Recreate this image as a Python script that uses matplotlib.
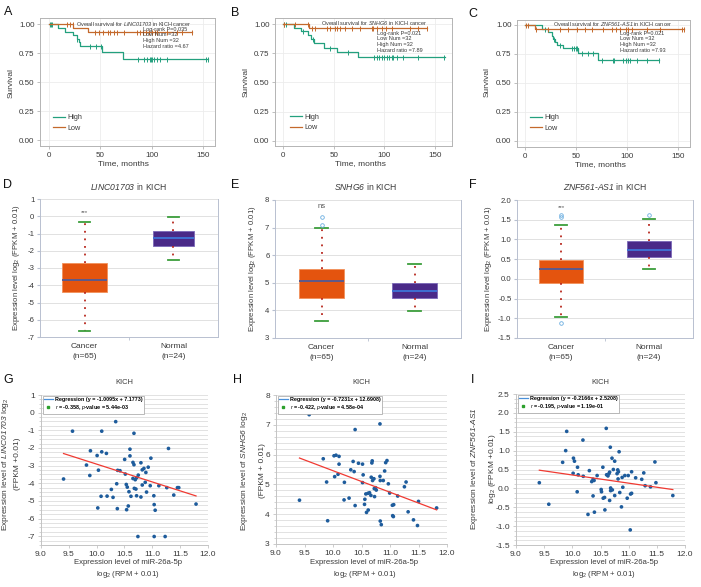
import numpy as np
import matplotlib
matplotlib.use('Agg')
import matplotlib.pyplot as plt
from matplotlib.lines import Line2D
from matplotlib.ticker import MultipleLocator, FormatStrFormatter

plt.rcParams['font.family'] = ['Liberation Sans', 'DejaVu Sans']
plt.rcParams['mathtext.fontset'] = 'custom'
plt.rcParams['mathtext.rm'] = 'Liberation Sans'
plt.rcParams['mathtext.it'] = 'Liberation Sans:italic'
plt.rcParams['mathtext.sf'] = 'Liberation Sans:italic'
plt.rcParams['mathtext.bf'] = 'Liberation Sans:bold'
plt.rcParams['axes.unicode_minus'] = False

# ---------------- data ----------------
genes = ['LINC01703', 'SNHG6', 'ZNF561-AS1']
logrank_p = ['0.035', '0.021', '0.021']
low_num = [32, 32, 32]
high_num = [32, 32, 32]
hazard_ratio = ['4.67', '7.89', '7.93']

# Kaplan-Meier (time, survival) step points and censor times
A_high_t = [0, 9, 15.5, 23.5, 27, 29.3, 30.2, 51.5, 72, 155]
A_high_s = [1, 0.969, 0.938, 0.906, 0.875, 0.844, 0.813, 0.758, 0.704, 0.704]
A_high_c = [0.5, 1.5, 2.6, 27.7, 40, 45.6, 50.8, 86.6, 92.1, 95.3, 98, 99.2, 100.2,
            102.5, 105.1, 108.4, 114.9, 153, 154.6]
A_low_t = [0, 23.5, 37.5, 139.5]
A_low_s = [1, 0.969, 0.937, 0.937]
A_low_c = [17.2, 20.5, 23.1, 44.3, 48.5, 53, 57, 59.6, 62.8, 66, 73.2, 85.6, 88.9, 91.4,
           94.4, 97, 100.2, 103.5, 105, 114.9, 124.6, 129.5, 139.3]

B_high_t = [0, 10.9, 17.5, 24.1, 27.5, 30.5, 40.6, 53.5, 73.7, 160.2]
B_high_s = [1, 0.969, 0.938, 0.906, 0.875, 0.836, 0.796, 0.758, 0.716, 0.716]
B_high_c = [1, 2.6, 19.8, 29.7, 46.2, 64.4, 89.9, 92.5, 95.1, 97.5, 99.8, 102.4, 105.1,
            107.4, 109, 112.3, 118.3, 133.8, 158.6]
B_low_t = [0, 25.4, 142.7]
B_low_s = [1, 0.969, 0.969]
B_low_c = [1, 11.6, 24.1, 28.1, 31.4, 43.6, 46.3, 51.2, 53.5, 56.2, 61.1, 67.7, 76, 87.5,
           89.2, 92.5, 97.5, 101.7, 107.4, 125.5, 133.8, 142.7]

C_high_t = [0, 17, 22.8, 26.1, 27.7, 29.3, 31.6, 37.5, 52.2, 71.1, 131.1]
C_high_s = [1, 0.969, 0.938, 0.906, 0.875, 0.852, 0.830, 0.800, 0.761, 0.700, 0.700]
C_high_c = [19.6, 28.5, 34.2, 46.3, 48.3, 49.9, 51.2, 55.4, 62, 66.8, 75, 85.8, 87.4, 96.2,
            98.8, 100.4, 102.7, 109.2, 119, 131.1]
C_low_t = [0, 10.1, 155.5]
C_low_s = [1, 0.969, 0.969]
C_low_c = [0.7, 3.3, 10.8, 22.8, 34.2, 42.4, 50.5, 58.7, 65.2, 76.6, 84.8, 89, 92.9, 98.5,
           101.1, 104.3, 119, 132, 153.2, 155.5]

# Box plot statistics (log2 FPKM+0.01)
groups = ['Cancer\n(n=65)', 'Normal\n(n=24)']
D_cancer = dict(q1=-4.38, med=-3.72, q3=-2.69, whislo=-6.68, whishi=-0.32, fliers=[])
D_normal = dict(q1=-1.72, med=-1.27, q3=-0.86, whislo=-2.52, whishi=-0.05, fliers=[])
E_cancer = dict(q1=4.46, med=5.07, q3=5.51, whislo=3.63, whishi=6.99, fliers=[7.08, 7.40])
E_normal = dict(q1=4.46, med=4.69, q3=4.99, whislo=3.98, whishi=5.69, fliers=[])
F_cancer = dict(q1=-0.11, med=0.25, q3=0.48, whislo=-0.96, whishi=1.36, fliers=[1.56, 1.61, -1.12])
F_normal = dict(q1=0.55, med=0.72, q3=0.95, whislo=0.26, whishi=1.52, fliers=[1.62])
box_sig = ['***', 'ns', '***']
box_sig_y = [0.22, 7.75, 1.82]

# Scatter: miR-26a-5p (x) vs lncRNA (y)
G_x = [9.405, 9.566, 9.888, 9.817, 9.877, 10.008, 10.032, 10.020, 10.091, 10.091, 10.175,
       10.079, 10.187, 10.264, 10.294, 10.342, 10.360, 10.377, 10.419, 10.371, 10.503,
       10.515, 10.532, 10.550, 10.568, 10.538, 10.580, 10.598, 10.598, 10.616, 10.652,
       10.670, 10.670, 10.652, 10.693, 10.676, 10.705, 10.717, 10.717, 10.741, 10.747,
       10.795, 10.795, 10.819, 10.819, 10.849, 10.872, 10.884, 10.896, 10.926, 10.974,
       10.962, 11.027, 11.033, 11.051, 11.033, 11.117, 11.230, 11.260, 11.290, 11.385,
       11.451, 11.475, 11.785]
G_y = [-3.76, -1.05, -2.16, -2.97, -3.56, -2.43, -3.26, -5.40, -1.05, -2.22, -2.31,
       -4.74, -4.73, -4.35, -4.80, -0.51, -4.03, -3.27, -3.29, -5.44, -2.65,
       -3.48, -4.07, -4.22, -5.29, -5.50, -4.48, -2.07, -2.45, -4.74, -2.82,
       -1.17, -2.95, -3.73, -3.80, -4.29, -4.33, -3.69, -4.71, -7.02, -3.54,
       -4.78, -2.84, -3.24, -4.10, -3.16, -3.95, -3.39, -4.50, -3.09, -2.58,
       -4.14, -4.71, -5.21, -5.53, -7.02, -4.14, -7.02, -4.25, -2.03, -4.67,
       -4.25, -4.25, -5.18]
H_x = [9.412, 9.582, 9.829, 9.888, 9.906, 10.018, 10.053, 10.106, 10.106, 10.029, 10.088,
       10.200, 10.194, 10.282, 10.312, 10.353, 10.371, 10.388, 10.388, 10.447, 10.518,
       10.529, 10.518, 10.559, 10.553, 10.588, 10.618, 10.576, 10.612, 10.641, 10.665,
       10.671, 10.682, 10.688, 10.694, 10.718, 10.729, 10.724, 10.747, 10.759, 10.824,
       10.824, 10.829, 10.829, 10.847, 10.882, 10.906, 10.924, 10.947, 10.971, 10.994,
       11.041, 11.065, 11.047, 11.059, 11.135, 11.253, 11.282, 11.318, 11.412, 11.482,
       11.500, 11.818]
H_y = [4.47, 7.34, 5.86, 5.08, 3.78, 5.96, 5.98, 5.94, 5.68, 5.26, 5.34,
       5.07, 4.48, 4.54, 5.49, 5.77, 5.43, 6.84, 4.29, 5.71, 5.68,
       5.32, 5.06, 4.50, 4.33, 4.06, 4.14, 4.68, 4.70, 4.72, 4.63,
       5.24, 5.72, 5.79, 5.13, 5.19, 4.59, 4.86, 4.89, 4.81, 7.03,
       5.27, 5.13, 3.77, 3.65, 5.13, 5.45, 5.73, 5.80, 5.02, 4.71,
       4.30, 4.32, 3.95, 3.92, 4.61, 4.92, 5.08, 4.08, 3.81, 3.62,
       4.43, 4.21]
I_x = [9.414, 9.582, 9.828, 9.882, 9.900, 10.020, 10.038, 10.014, 10.092, 10.104, 10.086,
       10.188, 10.194, 10.278, 10.302, 10.344, 10.368, 10.386, 10.368, 10.392, 10.440,
       10.512, 10.518, 10.542, 10.548, 10.572, 10.578, 10.602, 10.608, 10.632, 10.650,
       10.662, 10.674, 10.680, 10.680, 10.662, 10.704, 10.710, 10.728, 10.752, 10.752,
       10.794, 10.806, 10.818, 10.812, 10.830, 10.842, 10.872, 10.884, 10.896, 10.932,
       10.974, 10.992, 11.034, 11.052, 11.052, 11.028, 11.124, 11.232, 11.268, 11.292,
       11.388, 11.466, 11.484, 11.784]
I_y = [0.15, -0.42, 0.69, 1.00, 1.51, 0.80, 0.72, 0.40, 0.56, 0.36, -0.09,
       1.28, 0.32, -0.69, 0.47, 0.18, 0.24, 0.21, -0.20, -0.63, 0.34,
       -0.03, -0.09, 0.56, -0.26, -0.24, -0.57, 1.59, 0.36, 0.33, 0.39,
       0.43, 1.09, 0.01, -0.06, -0.32, 0.80, -0.04, 0.50, 0.72, -0.19,
       0.39, 0.49, 0.44, 0.25, 0.97, -0.11, -0.49, 0.29, 0.03, 0.34,
       -0.26, 0.34, -0.15, -0.13, 0.44, -1.10, 0.28, 0.24, 0.41, 0.07,
       0.04, 0.70, 0.15, -0.19]
reg_slope = [-1.0095, -0.7231, -0.2166]
reg_icpt = [7.1773, 12.6908, 2.5208]
reg_r = ['-0.358', '-0.422', '-0.195']
reg_p = ['5.44e-03', '4.58e-04', '1.19e-01']

# ---------------- layout helpers ----------------
W, H = 701, 587
fig = plt.figure(figsize=(W / 100, H / 100), dpi=100)
fig.patch.set_facecolor('white')


def add_ax(l, t, r, b):
    return fig.add_axes([l / W, 1 - b / H, (r - l) / W, (b - t) / H])


def ftext(x, y, s, **kw):
    return fig.text(x / W, 1 - y / H, s, **kw)


def gene_math(g):
    return r'$\mathsf{' + g.replace('-', '}$-$\\mathsf{') + '}$'


HIGH = '#23a07e'
LOW = '#c4692c'
TXT = '#3a3a3a'

# panel letters
for lab, x, y in [('A', 8, 12), ('B', 235, 13), ('C', 473, 14), ('D', 8, 185),
                  ('E', 235, 185), ('F', 473, 185), ('G', 8, 380), ('H', 237, 380), ('I', 473, 380)]:
    ftext(x, y, lab, fontsize=9, ha='center', va='center', color='#111111')


# ---------------- survival panels ----------------
def surv_panel(box, xlim, ylim, ht, hs, hc, lt, ls_, lc, gi, title_xy, stats_xy, leg_xy,
               ylab_xy, xlab_xy):
    ax = add_ax(*box)
    for t, s, c, col in [(ht, hs, hc, HIGH), (lt, ls_, lc, LOW)]:
        t = np.asarray(t)
        s = np.asarray(s)
        ax.step(t, s, where='post', color=col, lw=0.9)
        idx = np.searchsorted(t, c, side='right') - 1
        ax.plot(c, s[idx], ls='none', marker='|', ms=3.6, mew=0.7, color=col)
    ax.set_xlim(*xlim)
    ax.set_ylim(*ylim)
    ax.set_xticks([0, 50, 100, 150])
    ax.set_yticks([0, 0.25, 0.5, 0.75, 1.0])
    ax.yaxis.set_major_formatter(FormatStrFormatter('%.2f'))
    ax.grid(True, color='#ececec', lw=0.6)
    ax.set_axisbelow(True)
    for sp in ax.spines.values():
        sp.set_color('#b4b4b4')
        sp.set_linewidth(0.7)
    ax.tick_params(labelsize=5.8, colors='#b4b4b4', labelcolor=TXT, length=2, width=0.6, pad=2)
    ftext(title_xy[0], title_xy[1], 'Overall survival for ' + gene_math(genes[gi]) + ' in KICH cancer',
          fontsize=4.0, ha='left', va='center', color=TXT)
    lines = ['Log-rank P=' + logrank_p[gi], 'Low Num =%d' % low_num[gi],
             'High Num =%d' % high_num[gi], 'Hazard ratio =' + hazard_ratio[gi]]
    for k, ln in enumerate(lines):
        ftext(stats_xy[0], stats_xy[1] + k * 5.6, ln, fontsize=4.0, ha='left', va='center', color=TXT)
    handles = [Line2D([], [], color=HIGH, lw=0.9), Line2D([], [], color=LOW, lw=0.9)]
    ax.legend(handles, ['High', 'Low'], loc='center left',
              bbox_to_anchor=(leg_xy[0] / W, 1 - leg_xy[1] / H), bbox_transform=fig.transFigure,
              frameon=False, fontsize=5.2, handlelength=1.6, handletextpad=0.4,
              labelspacing=0.45, borderpad=0, borderaxespad=0, labelcolor=TXT)
    ftext(ylab_xy[0], ylab_xy[1], 'Survival', rotation=90, fontsize=6, ha='center', va='center', color=TXT)
    ftext(xlab_xy[0], xlab_xy[1], 'Time, months', fontsize=6, ha='center', va='center', color=TXT)
    return ax


surv_panel((40, 18, 215, 146), (-8.8, 161.6), (-0.05, 1.055), A_high_t, A_high_s, A_high_c,
           A_low_t, A_low_s, A_low_c, 0, (76, 23.5), (143, 29.3), (53, 123), (11, 83), (123, 164))
surv_panel((275, 18, 452, 146), (-8.2, 167.0), (-0.046, 1.054), B_high_t, B_high_s, B_high_c,
           B_low_t, B_low_s, B_low_c, 1, (321, 23), (377, 33.3), (290, 122.5), (246, 82), (360, 164))
surv_panel((517, 20, 690, 147), (-7.8, 161.4), (-0.052, 1.043), C_high_t, C_high_s, C_high_c,
           C_low_t, C_low_s, C_low_c, 2, (553, 24.3), (620, 33.3), (530, 123), (487, 82), (600, 165))


# ---------------- box panels ----------------
def box_panel(box, ylim, yticks, fmt, sc, sn, widths, gi, title_x, ylab_x):
    ax = add_ax(*box)
    bp = ax.bxp([sc, sn], positions=[1, 2], widths=widths, patch_artist=True, showfliers=True,
                capwidths=0.13,
                whiskerprops=dict(color='#b8281e', linestyle=(0, (1, 3.2)), lw=1.3),
                capprops=dict(color='#3c9e3c', lw=1.3),
                flierprops=dict(marker='o', mfc='none', mec='#6aaee0', ms=2.6, mew=0.6),
                medianprops=dict(lw=1.4))
    bp['boxes'][0].set(facecolor='#e4540e', edgecolor='#f2905a', lw=0.6)
    bp['boxes'][1].set(facecolor='#4a2a88', edgecolor='#7a68b8', lw=0.6)
    bp['medians'][0].set_color('#5c5a8c')
    bp['medians'][1].set_color('#3f6fd2')
    ax.set_xlim(0.5, 2.5)
    ax.set_ylim(*ylim)
    ax.set_yticks(yticks)
    ax.yaxis.set_major_formatter(FormatStrFormatter(fmt))
    ax.set_xticks([1, 2])
    ax.set_xticklabels(groups, fontsize=6, color=TXT, linespacing=1.75)
    ax.set_xticks([1.5], minor=True)
    ax.tick_params(axis='x', which='major', length=0, pad=4)
    ax.tick_params(axis='x', which='minor', length=2.5, color='#b8c0d0')
    ax.tick_params(axis='y', labelsize=5.6, labelcolor=TXT, color='#b8c0d0', length=2, pad=2)
    ax.grid(True, axis='y', color='#dcdcdc', lw=0.6)
    ax.set_axisbelow(True)
    for k, sp in ax.spines.items():
        sp.set_color('#b8c0d0')
        sp.set_linewidth(0.7)
    ax.spines['top'].set_visible(False)
    ax.text(1, box_sig_y[gi], box_sig[gi], ha='center', va='center',
            fontsize=5.5 if box_sig[gi] == 'ns' else 4.5, color='#555555')
    ftext(title_x, 187, gene_math(genes[gi]) + ' in KICH', fontsize=6.2, ha='center', va='center', color=TXT)
    cy = (box[1] + box[3]) / 2
    ftext(ylab_x, cy, r'Expression level log$_2$ (FPKM + 0.01)', rotation=90, fontsize=5.6,
          ha='center', va='center', color=TXT)
    return ax


box_panel((40, 199, 218, 337), (-7, 1), np.arange(-7, 2, 1), '%d', D_cancer, D_normal,
          [0.51, 0.46], 0, 129, 17)
box_panel((275, 200, 461, 338), (3, 8), np.arange(3, 9, 1), '%d', E_cancer, E_normal,
          [0.49, 0.48], 1, 366, 253)
box_panel((517, 200, 693, 338), (-1.5, 2.0), np.arange(-1.5, 2.01, 0.5), '%.1f', F_cancer, F_normal,
          [0.49, 0.50], 2, 605, 488)


# ---------------- scatter panels ----------------
def scat_panel(box, ylim, yticks, fmt, minor, x, y, gi, ylab1, ylab2, ylab_x, ylab_y):
    ax = add_ax(*box)
    ax.scatter(x, y, s=7, color='#1e5c9c', edgecolors='none', zorder=3)
    xs = np.array([min(x), max(x)])
    ax.plot(xs, reg_slope[gi] * xs + reg_icpt[gi], color='#f03a32', lw=0.9, zorder=4)
    ax.set_xlim(9, 12)
    ax.set_ylim(*ylim)
    ax.set_xticks(np.arange(9, 12.01, 0.5))
    ax.xaxis.set_major_formatter(FormatStrFormatter('%.1f'))
    ax.set_yticks(yticks)
    ax.yaxis.set_major_formatter(FormatStrFormatter(fmt))
    ax.yaxis.set_minor_locator(MultipleLocator(minor))
    ax.grid(True, axis='y', which='both', color='#d6d6d6', lw=0.5)
    ax.set_axisbelow(True)
    ax.spines['top'].set_visible(False)
    ax.spines['right'].set_visible(False)
    for k in ['left', 'bottom']:
        ax.spines[k].set_color('#c4c4c4')
        ax.spines[k].set_linewidth(0.7)
    ax.tick_params(labelsize=6, labelcolor=TXT, color='#c4c4c4', length=2, width=0.6, pad=2.5)
    ax.tick_params(which='minor', length=1.2, color='#c4c4c4', width=0.5)
    handles = [Line2D([], [], color='#4a90d9', lw=0.9),
               Line2D([], [], marker='s', ls='none', color='#2ca02c', ms=1.8)]
    sgn = '-' if reg_icpt[gi] < 0 else '+'
    labels = ['Regression (y = %.4fx %s %.4f)' % (reg_slope[gi], sgn, abs(reg_icpt[gi])),
              r'$r$ = %s, $p$-value = %s' % (reg_r[gi], reg_p[gi])]
    leg = ax.legend(handles, labels, loc='upper left',
                    bbox_to_anchor=(box[0] / W + 1.5 / W, 1 - (box[1] + 1) / H),
                    bbox_transform=fig.transFigure,
                    prop=dict(weight='bold', size=3.9), frameon=True, fancybox=False,
                    edgecolor='#a0a0a0', framealpha=1, borderpad=0.25, labelspacing=0.15,
                    handlelength=1.6, handletextpad=0.5, borderaxespad=0)
    leg.get_frame().set_linewidth(0.5)
    cx = (box[0] + box[2]) / 2
    ftext(cx, 383, 'KICH', fontsize=5.4, ha='center', va='center', color=TXT)
    ftext(cx + 3, 563, 'Expression level of miR-26a-5p', fontsize=5.6, ha='center', va='center', color=TXT)
    ftext(cx + 3, 574, r'log$_2$ (RPM + 0.01)', fontsize=5.6, ha='center', va='center', color=TXT)
    ftext(ylab_x[0], ylab_y, ylab1, rotation=90, fontsize=6.0, ha='center', va='center', color=TXT)
    ftext(ylab_x[1], ylab_y, ylab2, rotation=90, fontsize=6.0, ha='center', va='center', color=TXT)
    return ax


scat_panel((41, 395, 208, 545), (-7.5, 1), np.arange(-7, 1.01, 1), '%d', 0.25, G_x, G_y, 0,
           'Expression level of ' + gene_math(genes[0]) + r' log$_2$', '(FPKM +0.01)',
           (6, 17.5), 464)
scat_panel((276, 395, 447, 544), (3, 8), np.arange(3, 8.01, 1), '%d', 0.2, H_x, H_y, 1,
           'Expression level of ' + gene_math(genes[1]) + r' log$_2$', '(FPKM + 0.01)',
           (244, 262), 471)
scat_panel((516, 394, 685, 545), (-1.5, 2.5), np.arange(-1.5, 2.51, 0.5), '%.1f', 0.125, I_x, I_y, 2,
           'Expression level of ' + gene_math(genes[2]), r'log$_2$ (FPKM +0.01)',
           (475, 492), 469)

fig.savefig('out.png', dpi=100, facecolor='white')
